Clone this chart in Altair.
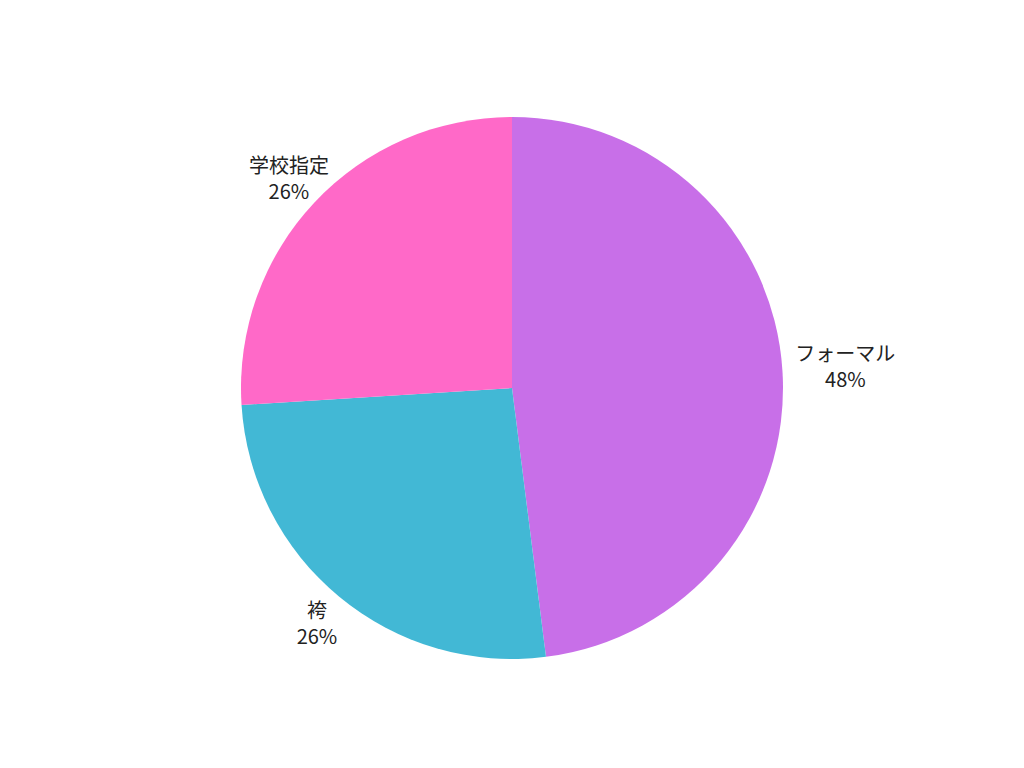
import altair as alt
import pandas as pd

categories = ["フォーマル", "袴", "学校指定"]
shares = [48, 26, 26]
colors = ["#C86FE8", "#42B8D5", "#FF69C8"]

df = pd.DataFrame({"cat": categories, "share": shares, "idx": list(range(len(categories)))})
df["label"] = df["cat"] + "\n" + df["share"].astype(str) + "%"

pie = alt.Chart(df).mark_arc(radius=271).encode(
    theta=alt.Theta("share:Q", stack=True),
    order=alt.Order("idx:Q"),
    color=alt.Color("cat:N", scale=alt.Scale(domain=categories, range=colors), legend=None),
)

lab = alt.Chart(df).transform_window(
    cum="sum(share)", sort=[alt.SortField("idx")]
).transform_calculate(
    mid="datum.cum - datum.share / 2"
)

tkw = dict(fontSize=20, font="Noto Sans CJK JP", color="#222222",
           lineBreak="\n", lineHeight=26, align="center", baseline="middle", dy=-12)

text_main = lab.transform_filter("datum.cat != 'フォーマル'").mark_text(radius=306, **tkw).encode(
    theta=alt.Theta("mid:Q", scale=alt.Scale(domain=[0, 100]), stack=None),
    text="label:N",
)

text_right = lab.transform_filter("datum.cat == 'フォーマル'").mark_text(radius=334, **tkw).encode(
    theta=alt.Theta("mid:Q", scale=alt.Scale(domain=[0, 100]), stack=None),
    text="label:N",
)

chart = alt.layer(pie, text_main, text_right).resolve_scale(theta="independent").properties(
    width=1008, height=760, padding=0, autosize=alt.AutoSizeParams(type="none")
).configure_view(stroke=None)

chart.save("out.html", embed_options={"renderer": "svg", "actions": False})
